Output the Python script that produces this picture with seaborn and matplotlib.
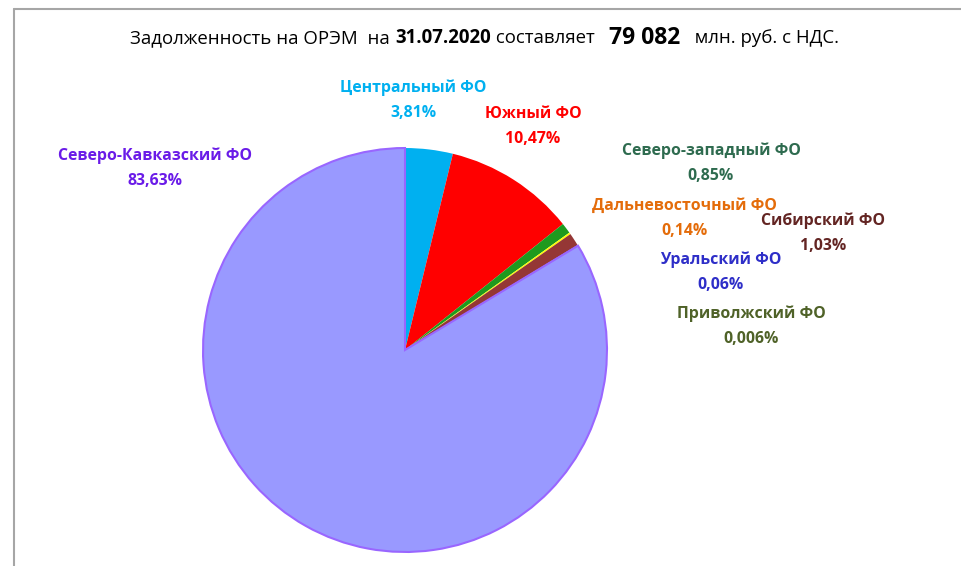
import matplotlib
matplotlib.use("Agg")
import matplotlib.pyplot as plt
import seaborn as sns

# ── Data ──────────────────────────────────────────────────────────
REGIONS = ["Центральный ФО", "Южный ФО", "Северо-западный ФО", "Дальневосточный ФО",
           "Сибирский ФО", "Уральский ФО", "Приволжский ФО", "Северо-Кавказский ФО"]
SHARES = [3.81, 10.47, 0.85, 0.14, 1.03, 0.06, 0.006, 83.63]
SHARE_LABELS = ["3,81%", "10,47%", "0,85%", "0,14%", "1,03%", "0,06%", "0,006%", "83,63%"]
SLICE_COLORS = ["#00B0F0", "#FF0000", "#1E9A1E", "#FFFF00", "#953735", "#2E2EC8", "#4F6228", "#9999FF"]
TEXT_COLORS = ["#00B0F0", "#FF0000", "#2E6B4F", "#E46C0A", "#632523", "#2E2EC8", "#4F6228", "#6A1BE8"]
# label anchor (pixels, centre of first line)
LABEL_POS = [(413, 88), (533, 114), (711, 151), (684, 206), (823, 221), (721, 260), (751, 314), (155, 156)]

W, H = 962, 566
sns.set_theme(style="white")
plt.rcParams["font.family"] = ["Open Sans", "DejaVu Sans"]

fig = plt.figure(figsize=(W / 100, H / 100), dpi=100)
fig.patch.set_facecolor("white")

# frame of the chart area (left + top edges visible)
fig.add_artist(plt.Line2D([14 / W, 14 / W], [0, 1 - 9 / H], color="#A6A6A6", lw=1.5))
fig.add_artist(plt.Line2D([14 / W, 1], [1 - 9 / H, 1 - 9 / H], color="#A6A6A6", lw=1.5))

# ── Pie ───────────────────────────────────────────────────────────
cx, cy, r = 405, 350, 204
ax = fig.add_axes([(cx - r) / W, (H - cy - r) / H, 2 * r / W, 2 * r / H])
wedges, _ = ax.pie(SHARES, colors=SLICE_COLORS, startangle=90, counterclock=False,
                   wedgeprops=dict(linewidth=0))
wedges[-1].set_edgecolor("#9966FF")
wedges[-1].set_linewidth(1.5)
ax.set_xlim(-1.01, 1.01)
ax.set_ylim(-1.01, 1.01)
ax.axis("off")

# ── Labels ────────────────────────────────────────────────────────
for name, lab, col, (x, y) in zip(REGIONS, SHARE_LABELS, TEXT_COLORS, LABEL_POS):
    fig.text(x / W, 1 - y / H, name, color=col, fontsize=11.4, fontweight="bold",
             ha="center", va="center")
    fig.text(x / W, 1 - (y + 25) / H, lab, color=col, fontsize=11.4, fontweight="bold",
             ha="center", va="center")

# ── Title (mixed weights) ─────────────────────────────────────────
parts = [("Задолженность на ОРЭМ  на ", "normal", 13.4),
         ("31.07.2020", "bold", 13.4),
         (" составляет   ", "normal", 13.4),
         ("79 082", "bold", 16.5),
         ("   млн. руб. с НДС.", "normal", 13.4)]
renderer = fig.canvas.get_renderer()
texts = [fig.text(0, 1 - 38 / H, s, fontweight=w, fontsize=fs, color="black", va="center")
         for s, w, fs in parts]
widths = [t.get_window_extent(renderer).width for t in texts]
x0 = 485 - sum(widths) / 2
for t, wd in zip(texts, widths):
    t.set_x(x0 / W)
    x0 += wd

fig.savefig("out.png", dpi=100, facecolor="white")
